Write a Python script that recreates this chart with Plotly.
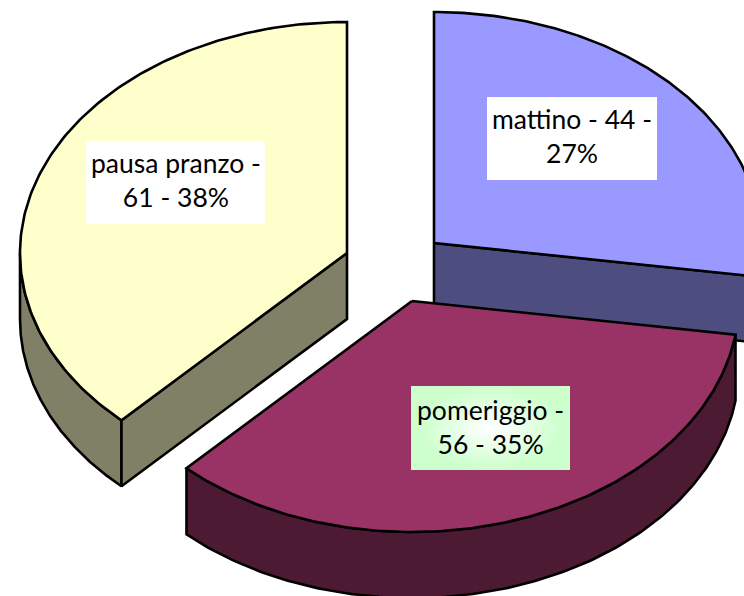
# -*- coding: utf-8 -*-
import numpy as np
import plotly.graph_objects as go

categories = ['mattino', 'pomeriggio', 'pausa pranzo']
values = [44, 56, 61]
percent_labels = ['27%', '35%', '38%']

# drawing parameters, in page pixels
RX, RY, DEPTH = 327, 231, 66
centers = {'mattino': (434, 243), 'pomeriggio': (412, 301), 'pausa pranzo': (347, 253)}
top_colors = {'mattino': '#9999FF', 'pomeriggio': '#993366', 'pausa pranzo': '#FFFFCC'}
side_colors = {'mattino': '#4D4D80', 'pomeriggio': '#4D1A33', 'pausa pranzo': '#808066'}
LINE = dict(color='black', width=2.6)


def arc(center, a0, a1, dy=0):
    t = np.radians(np.linspace(a0, a1, 160))
    return center[0] + RX * np.sin(t), center[1] - RY * np.cos(t) + dy


def poly(xs, ys, color):
    return go.Scatter(x=list(xs), y=list(ys), mode='lines', fill='toself', fillcolor=color,
                      line=LINE, hoverinfo='skip', showlegend=False)


# angles run clockwise from 12 o'clock, each slice size comes from its value
total = sum(values)
edges = np.cumsum([0] + values) / total * 360
angles = {c: (edges[i], edges[i + 1]) for i, c in enumerate(categories)}

fig = go.Figure()

for cat in ['mattino', 'pausa pranzo', 'pomeriggio']:
    c = centers[cat]
    a0, a1 = angles[cat]
    # rim, only the front half of the ellipse shows
    r0, r1 = max(a0, 90), min(a1, 270)
    if r1 > r0:
        ax, ay = arc(c, r0, r1)
        bx, by = arc(c, r1, r0, DEPTH)
        fig.add_trace(poly(np.r_[ax, bx, ax[0]], np.r_[ay, by, ay[0]], side_colors[cat]))
    # cut face that looks to the viewer
    if cat != 'pomeriggio':
        a = a1 if cat == 'mattino' else a0
        ex, ey = arc(c, a, a)
        ex, ey = ex[0], ey[0]
        fig.add_trace(poly([c[0], ex, ex, c[0], c[0]],
                           [c[1], ey, ey + DEPTH, c[1] + DEPTH, c[1]], side_colors[cat]))
    # top of the slice
    tx, ty = arc(c, a0, a1)
    fig.add_trace(poly(np.r_[c[0], tx, c[0]], np.r_[c[1], ty, c[1]], top_colors[cat]))

# label boxes
boxes = {'mattino': (487, 97, 657, 180), 'pomeriggio': (411, 386, 570, 470),
         'pausa pranzo': (86, 141, 265, 224)}
shapes = []
for cat, (x0, y0, x1, y1) in boxes.items():
    fill = '#CCFFCC' if cat == 'pomeriggio' else 'white'
    shapes.append(dict(type='rect', x0=x0, x1=x1, y0=y0, y1=y1, fillcolor=fill,
                       line_width=0, layer='above'))

# soft white glow in the middle of the pomeriggio box
x0, y0, x1, y1 = boxes['pomeriggio']
mx, my = (x0 + x1) / 2, (y0 + y1) / 2
steps = 16
for i in range(steps):
    f = 1 - i / steps
    col = 'rgb({0},255,{0})'.format(int(204 + 51 * (i + 1) / steps))
    shapes.append(dict(type='circle', x0=mx - 72 * f, x1=mx + 72 * f, y0=my - 40 * f, y1=my + 40 * f,
                       fillcolor=col, line_width=0, layer='above'))

label_text = {
    'mattino': 'mattino - {} -<br>{}',
    'pomeriggio': 'pomeriggio -<br>{} - {}',
    'pausa pranzo': 'pausa pranzo -<br>{} - {}',
}
label_yshift = {'mattino': 3, 'pomeriggio': 1, 'pausa pranzo': 3}
annotations = []
for i, cat in enumerate(categories):
    x0, y0, x1, y1 = boxes[cat]
    annotations.append(dict(x=(x0 + x1) / 2, y=(y0 + y1) / 2, showarrow=False, align='center',
                            yshift=label_yshift[cat],
                            text=label_text[cat].format(values[i], percent_labels[i]),
                            font=dict(family='Lato', size=26.5, color='black')))

fig.update_layout(
    width=744, height=596, autosize=False,
    margin=dict(l=0, r=0, t=0, b=0),
    paper_bgcolor='white', plot_bgcolor='white',
    xaxis=dict(range=[0, 744], visible=False, fixedrange=True),
    yaxis=dict(range=[596, 0], visible=False, fixedrange=True),
    shapes=shapes, annotations=annotations, showlegend=False,
)

# page has a default 8px body margin, remove it so the figure fills the window
fig.write_html("out.html", config=dict(displayModeBar=False),
               post_script="document.body.style.margin='0';document.documentElement.style.overflow='hidden';")
